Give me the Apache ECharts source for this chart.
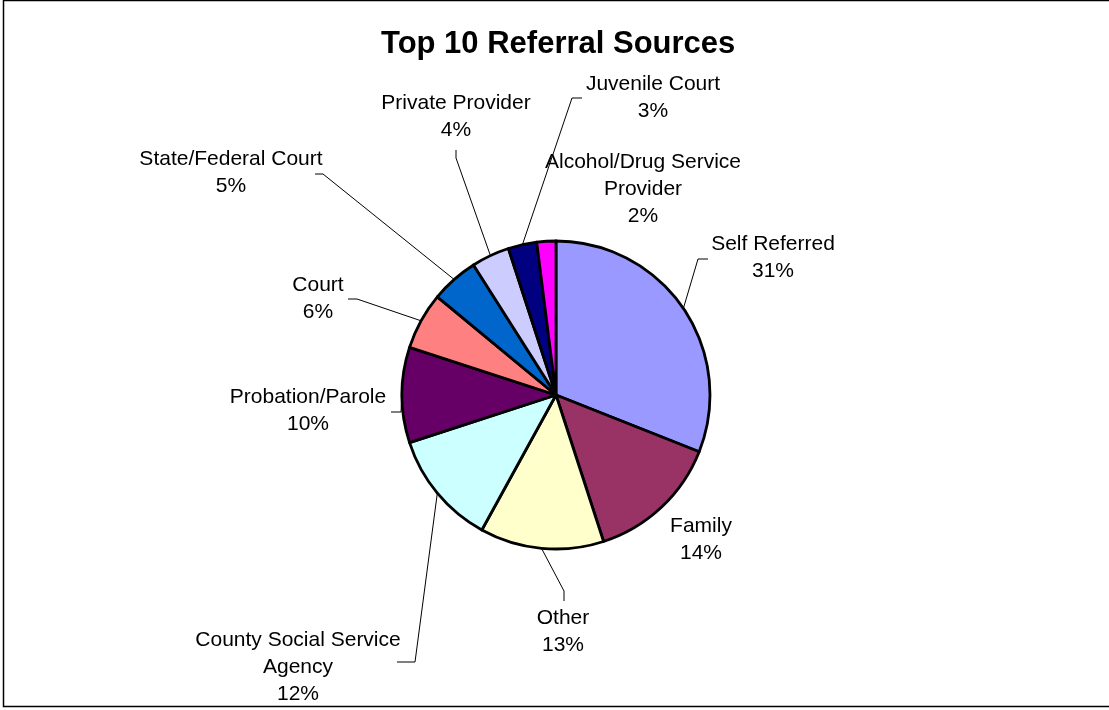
<!DOCTYPE html>
<html>
<head>
<meta charset="utf-8">
<script src="https://cdn.jsdelivr.net/npm/echarts@6/dist/echarts.min.js"></script>
<style>
  html, body { margin: 0; padding: 0; background: #fff; }
  #chart { width: 1109px; height: 710px; }
</style>
</head>
<body>
<div id="chart"></div>
<script>
// Referral sources, clockwise from 12 o'clock
const categories = [
  'Self Referred', 'Family', 'Other', 'County Social Service Agency',
  'Probation/Parole', 'Court', 'State/Federal Court', 'Private Provider',
  'Juvenile Court', 'Alcohol/Drug Service Provider'
];
const shares = [31, 14, 13, 12, 10, 6, 5, 4, 3, 2];

// Wrapped names used in the slice labels
const labelNames = [
  'Self Referred', 'Family', 'Other', 'County Social Service\nAgency',
  'Probation/Parole', 'Court', 'State/Federal Court', 'Private Provider',
  'Juvenile Court', 'Alcohol/Drug Service\nProvider'
];

const sliceColors = [
  '#9999FF', '#993366', '#FFFFCC', '#CCFFFF', '#660066',
  '#FF8080', '#0066CC', '#CCCCFF', '#000080', '#FF00FF'
];

// Label centres (px) and leader-line elbow/end points; null = no leader
const labelCenters = [
  [773, 258], [701, 540], [563, 632], [298, 667], [308, 411],
  [318, 299], [231, 173], [456, 117], [653, 98], [643, 189]
];
const leaderPaths = [
  [[698, 259], [708, 259]],
  null,
  [[564, 591], [564, 601]],
  [[415, 662], [397, 662]],
  [[401, 412], [391, 412]],
  [[357, 299], [348, 299]],
  [[323, 174], [315, 174]],
  [[456, 158], [456, 150]],
  [[572, 98], [582, 98]],
  null
];

const chart = echarts.init(document.getElementById('chart'), null, { renderer: 'canvas' });

const seriesData = categories.map((name, i) => ({
  name: name,
  value: shares[i],
  itemStyle: { color: sliceColors[i] },
  labelLine: { show: leaderPaths[i] !== null }
}));

chart.setOption({
  animation: false,
  backgroundColor: '#ffffff',
  title: {
    text: 'Top 10 Referral Sources',
    left: 376,
    top: 24,
    textStyle: {
      fontFamily: 'Arial, "Liberation Sans", sans-serif',
      fontSize: 31,
      fontWeight: 'bold',
      color: '#000'
    }
  },
  graphic: [{
    type: 'rect',
    silent: true,
    shape: { x: 3.5, y: 0.5, width: 1112, height: 706 },
    style: { fill: null, stroke: '#000', lineWidth: 1.5 }
  }],
  series: [{
    type: 'pie',
    silent: true,
    center: [556, 395],
    radius: 154,
    startAngle: 90,
    clockwise: true,
    avoidLabelOverlap: false,
    data: seriesData,
    itemStyle: { borderColor: '#000', borderWidth: 2.8 },
    label: {
      show: true,
      position: 'outside',
      formatter: (p) => labelNames[p.dataIndex] + '\n' + p.value + '%',
      fontFamily: 'Arial, "Liberation Sans", sans-serif',
      fontSize: 21,
      lineHeight: 27,
      color: '#000',
      align: 'center'
    },
    labelLine: {
      show: true,
      length: 20,
      length2: 10,
      lineStyle: { color: '#000', width: 1 }
    },
    labelLayout: function (params) {
      const i = params.dataIndex;
      const c = labelCenters[i];
      const out = { x: c[0], y: c[1], align: 'center', verticalAlign: 'middle' };
      const path = leaderPaths[i];
      if (path && params.labelLinePoints) {
        out.labelLinePoints = [params.labelLinePoints[0], path[0], path[1]];
      }
      return out;
    }
  }]
});
</script>
</body>
</html>
